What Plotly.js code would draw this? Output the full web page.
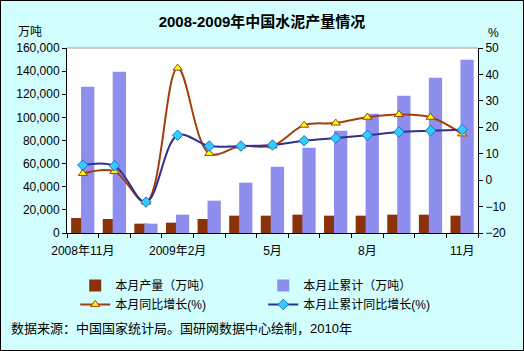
<!DOCTYPE html>
<html><head><meta charset="utf-8">
<script src="https://cdn.plot.ly/plotly-3.0.1.min.js"></script>
<style>
html,body{margin:0;padding:0;background:#D2FEFE;}
#wrap{position:relative;width:524px;height:351px;}
#chart{width:524px;height:351px;}
#frame{position:absolute;left:0;top:0;width:522px;height:349px;border:1px solid #000;pointer-events:none;}
</style></head>
<body><div id="wrap"><div id="chart"></div><div id="frame"></div></div>
<script>
var months = ['2008年11月','2008年12月','2009年1月','2009年2月','2009年3月','2009年4月','2009年5月','2009年6月','2009年7月','2009年8月','2009年9月','2009年10月','2009年11月'];
var tickLabels = ['2008年11月','','','2009年2月','','','5月','','','8月','','','11月'];
var monthlyOutput = [12970, 12100, 8070, 8930, 12100, 15000, 15000, 15860, 15000, 15000, 15860, 15860, 15000];
var cumulativeOutput = [126500, 139500, 8070, 15850, 27950, 43500, 57370, 73800, 88500, 103200, 118800, 134300, 149900];
var monthlyYoY = [2.5, 3.3, -8.3, 42.4, 10.1, 12.9, 13.0, 20.8, 21.6, 23.8, 24.8, 23.8, 17.5];
var cumulativeYoY = [5.7, 5.4, -8.3, 17.0, 12.9, 12.9, 13.3, 14.9, 15.9, 17.0, 18.2, 18.7, 19.1];
var seriesNames = ['本月产量（万吨）','本月止累计（万吨）','本月同比增长(%)','本月止累计同比增长(%)'];

var FONT = 'Liberation Sans, Arial, Noto Sans CJK SC, sans-serif';

var traces = [
  {type:'bar', x:months, y:monthlyOutput, name:seriesNames[0], offset:-0.37, width:0.42,
   marker:{color:'#8A330A', line:{width:0}}, yaxis:'y'},
  {type:'bar', x:months, y:cumulativeOutput, name:seriesNames[1], offset:-0.055, width:0.42,
   marker:{color:'#8E8EEE', line:{width:0}}, yaxis:'y'},
  {type:'scatter', mode:'lines+markers', x:months, y:monthlyYoY, name:seriesNames[2], yaxis:'y2',
   line:{color:'#A33F0C', width:2, shape:'spline', smoothing:1},
   marker:{symbol:'triangle-up', size:8, color:'#FFFF00', line:{color:'#A33F0C', width:1}}},
  {type:'scatter', mode:'lines+markers', x:months, y:cumulativeYoY, name:seriesNames[3], yaxis:'y2',
   line:{color:'#2E3192', width:2, shape:'spline', smoothing:1},
   marker:{symbol:'diamond', size:8, color:'#33CCFF', line:{color:'#1F6FD0', width:1}}}
];

var layout = {
  width:524, height:351,
  margin:{l:67, r:46, t:48, b:118},
  paper_bgcolor:'rgba(0,0,0,0)', plot_bgcolor:'#FFFFFF',
  font:{family:FONT, size:12, color:'#000'},
  barmode:'overlay',
  showlegend:true,
  title:{text:'2008-2009年中国水泥产量情况', x:0.5, xref:'container', xanchor:'center',
         y:1-22/351, yref:'container', yanchor:'middle',
         font:{family:FONT, size:15, weight:'bold', color:'#000'}},
  xaxis:{type:'category', categoryorder:'array', categoryarray:months,
         tickmode:'array', tickvals:months, ticktext:tickLabels, tickangle:0,
         tickson:'boundaries', ticks:'outside', ticklen:4, tickcolor:'#000', tickwidth:1,
         ticklabelstandoff:7,
         showline:true, linecolor:'#000', linewidth:1, showgrid:false, zeroline:false,
         range:[-0.5,12.5], tickfont:{size:12}, automargin:false},
  yaxis:{range:[0,160000], dtick:20000, tickformat:',d', ticks:'outside', ticklen:4,
         tickcolor:'#000', showline:true, linecolor:'#000', linewidth:1, showgrid:false,
         zeroline:false, tickfont:{size:12}, automargin:false},
  yaxis2:{overlaying:'y', side:'right', range:[-20,50], dtick:10, ticks:'outside', ticklen:4,
          tickcolor:'#000', showline:true, linecolor:'#000', linewidth:1, showgrid:false,
          zeroline:false, tickfont:{size:12}, automargin:false},
  legend:{orientation:'h', x:0.02, xanchor:'left', y:-0.205, yanchor:'top',
          entrywidth:143, entrywidthmode:'pixels', bgcolor:'rgba(0,0,0,0)',
          font:{size:12}, traceorder:'normal', itemwidth:30},
  shapes:[
    {type:'line', xref:'paper', yref:'paper', x0:0, x1:1, y0:1, y1:1, line:{color:'#A0A0A0', width:1}}
  ],
  annotations:[
    {text:'万吨', xref:'paper', yref:'paper', x:-37/411, y:1+16/185, xanchor:'center', yanchor:'middle', showarrow:false, font:{size:12}},
    {text:'%', xref:'paper', yref:'paper', x:1+15/411, y:1+15/185, xanchor:'center', yanchor:'middle', showarrow:false, font:{size:12}},
    {text:'数据来源：中国国家统计局。国研网数据中心绘制，2010年', xref:'paper', yref:'paper', x:-58/411, y:-(328-233)/185, xanchor:'left', yanchor:'middle', showarrow:false, font:{size:13}}
  ]
};

Plotly.newPlot('chart', traces, layout, {displayModeBar:false, staticPlot:true});
</script></body></html>
